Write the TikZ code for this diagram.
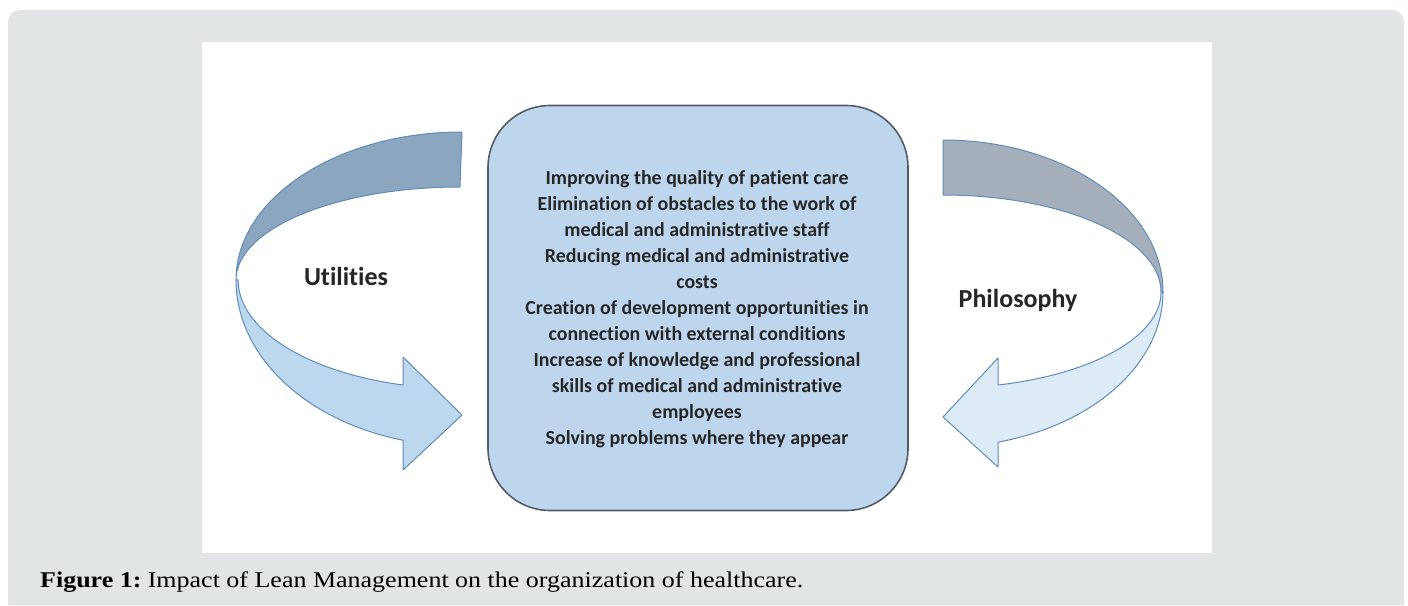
\documentclass[tikz,border=0pt]{standalone}
\usepackage{fontspec}
\usepackage{graphicx}
\setmainfont{Liberation Serif}
\newfontfamily\boxfont[Ligatures=NoCommon]{Carlito}
\begin{document}
\begin{tikzpicture}[x=1pt,y=-1pt,
  backband/.style={draw=arrowedge,line width=1pt,line join=round},
  frontband/.style={draw=arrowedge,line width=1pt,line join=round},
  centrebox/.style={draw=boxedge,line width=1.6pt,fill=boxblue,rounded corners=62pt,
    minimum width=420pt,minimum height=405pt,inner sep=0pt},
  itemtext/.style={font=\boxfont\bfseries\fontsize{19.9}{26}\selectfont,align=center,text=black!85},
  sidelabel/.style={font=\boxfont\bfseries\fontsize{26}{30}\selectfont,text=black!85}
]
\definecolor{panelgrey}{RGB}{225,229,230}
\definecolor{boxblue}{RGB}{189,214,238}
\definecolor{boxedge}{RGB}{84,92,102}
\definecolor{arrowedge}{RGB}{96,140,188}
\definecolor{leftdark}{RGB}{140,166,192}
\definecolor{leftlight}{RGB}{189,215,238}
\definecolor{rightdark}{RGB}{164,175,187}
\definecolor{rightlight}{RGB}{221,235,247}

% page and grey panel with rounded top corners
\useasboundingbox (0,0) rectangle (1408,605);
\fill[white] (0,0) rectangle (1408,605);
\fill[panelgrey] (8,605) -- (8,22) arc[start angle=180,end angle=270,radius=12]
  -- (1392,10) arc[start angle=270,end angle=360,radius=12] -- (1404,605) -- cycle;
\fill[white] (202,42) rectangle (1212,553);

% left curved arrow: back band, then front band with head
\path[backband,fill=leftdark] (462,132)
  arc[start angle=270,end angle=180,x radius=226,y radius=148]
  arc[start angle=180,end angle=270,x radius=224,y radius=93] -- cycle;
\path[frontband,fill=leftlight] (236,280)
  arc[start angle=180,end angle=105.1,x radius=226,y radius=166]
  -- (403,470) -- (462,415) -- (403,357) -- (403,385)
  arc[start angle=105.3,end angle=180,x radius=224,y radius=109] -- cycle;

% right curved arrow
\path[backband,fill=rightdark] (943,140)
  arc[start angle=270,end angle=360,x radius=220,y radius=152]
  -- (1161,292)
  arc[start angle=0,end angle=-90,x radius=218,y radius=97] -- cycle;
\path[frontband,fill=rightlight] (1163,292)
  arc[start angle=0,end angle=75.5,x radius=220,y radius=155]
  -- (998,467) -- (943,417) -- (998,358) -- (998,385)
  arc[start angle=75.4,end angle=0,x radius=218,y radius=96] -- cycle;

% central box
\node[centrebox] (impact) at (698,308) {};
\node[itemtext] (items) at (697,309) {Improving the quality of patient care\\
Elimination of obstacles to the work of\\
medical and administrative staff\\
Reducing medical and administrative\\
costs\\
Creation of development opportunities in\\
connection with external conditions\\
Increase of knowledge and professional\\
skills of medical and administrative\\
employees\\
Solving problems where they appear};

% side labels
\node[sidelabel] (utilities) at (346,276) {Utilities};
\node[sidelabel] (philosophy) at (1018,300) {Philosophy};

% caption
\node[anchor=base west,font=\fontsize{22.5}{26}\selectfont,inner sep=0pt] (caption) at (40,587)
  {\scalebox{1.155}[1]{\textbf{Figure 1:}\kern-2pt{} Impact of Lean Management on the organization of healthcare.}};
\end{tikzpicture}
\end{document}
